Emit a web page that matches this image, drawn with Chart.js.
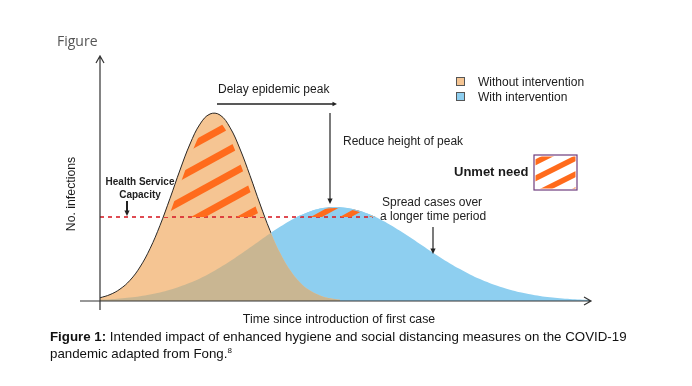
<!DOCTYPE html>
<html>
<head>
<meta charset="utf-8">
<script src="https://cdn.jsdelivr.net/npm/chart.js@4"></script>
<style>
  body { margin: 0; background: #fff; }
  #wrap { position: relative; width: 692px; height: 386px; }
  #chart { position: absolute; left: 0; top: 0; }
  .fig { position: absolute; left: 57px; top: 31px; font: 14px "Open Sans", sans-serif; color: #555; }
  .caption { position: absolute; left: 50px; top: 328px; width: 620px; font: 13.3px "Liberation Sans", Arial, sans-serif; line-height: 17px; color: #111; }
  .caption sup { font-size: 8px; line-height: 0; }
</style>
</head>
<body>
<div id="wrap">
  <canvas id="chart" width="692" height="386"></canvas>
  <div class="fig">Figure</div>
  <div class="caption"><b>Figure 1:</b> Intended impact of enhanced hygiene and social distancing measures on the COVID-19 pandemic adapted from Fong.<sup>8</sup></div>
</div>
<script>
// time since first case (arbitrary units) and number of infections
const time = [0, 10, 20, 30, 40, 50, 60, 70, 80, 90, 100, 110, 120, 130, 140, 150, 160, 170, 180, 190,
  200, 210, 220, 230, 240, 250, 260, 270, 280, 290, 300, 310, 320, 330, 340, 350, 360, 370, 380, 390,
  400, 410, 420, 430, 440, 450, 460, 470, 480, 490];
const withoutIntervention = [3.2, 6.4, 11.9, 20.7, 34.0, 52.3, 75.6, 102.6, 131.0, 157.0, 176.9, 187.0, 186.0,
  173.5, 152.0, 125.4, 97.0, 70.5, 48.2, 30.9, 18.6, 10.5, 5.6, 2.8, 1.3];
const withIntervention = [1.3, 1.8, 2.5, 3.5, 4.8, 6.5, 8.6, 11.2, 14.4, 18.2, 22.6, 27.7, 33.5, 39.7, 46.4,
  53.5, 60.6, 67.6, 74.2, 80.3, 85.4, 89.5, 92.4, 93.8, 93.8, 92.6, 90.0, 86.4, 81.7, 76.3, 70.2, 63.7,
  57.0, 50.3, 43.8, 37.6, 31.9, 26.6, 21.9, 17.8, 14.3, 11.3, 8.8, 6.8, 5.1, 3.8, 2.8, 2.1, 1.5, 1.0];
const capacityTime = [0, 273];
const capacity = [84, 84];

const ORANGE = '#f5c593';
const BLUE = '#8ecff0';
const OVERLAP = '#c9b692';
const STRIPE = '#ff6b1c';
const FONT = '"Liberation Sans", Arial, sans-serif';

const toPoints = (xs, ys) => ys.map((v, i) => ({ x: xs[i], y: v }));

function hatch(ctx, box, spacing, phase, slope, width) {
  ctx.strokeStyle = STRIPE;
  ctx.lineWidth = width;
  ctx.lineCap = 'butt';
  const cMin = box.top + slope * box.left;
  const cMax = box.bottom + slope * box.right;
  let c = phase - spacing * Math.ceil((phase - cMin) / spacing);
  for (; c <= cMax + spacing; c += spacing) {
    ctx.beginPath();
    ctx.moveTo(box.left, c - slope * box.left);
    ctx.lineTo(box.right, c - slope * box.right);
    ctx.stroke();
  }
}

function arrow(ctx, x1, y1, x2, y2, width, head) {
  const ang = Math.atan2(y2 - y1, x2 - x1);
  ctx.strokeStyle = '#222';
  ctx.fillStyle = '#222';
  ctx.lineWidth = width;
  ctx.beginPath();
  ctx.moveTo(x1, y1);
  ctx.lineTo(x2 - Math.cos(ang) * head * 0.6, y2 - Math.sin(ang) * head * 0.6);
  ctx.stroke();
  ctx.beginPath();
  ctx.moveTo(x2, y2);
  ctx.lineTo(x2 - head * Math.cos(ang - 0.45), y2 - head * Math.sin(ang - 0.45));
  ctx.lineTo(x2 - head * Math.cos(ang + 0.45), y2 - head * Math.sin(ang + 0.45));
  ctx.closePath();
  ctx.fill();
}

const diagram = {
  id: 'diagram',
  afterDatasetsDraw(chart) {
    const { ctx, chartArea: a, scales: { x, y } } = chart;
    const base = y.getPixelForValue(0);
    const capY = y.getPixelForValue(capacity[0]);

    const region = (i, fresh = true) => {
      const line = chart.getDatasetMeta(i).dataset;
      const pts = line.points;
      if (fresh) ctx.beginPath();
      line.path(ctx);
      ctx.lineTo(pts[pts.length - 1].x, base);
      ctx.lineTo(pts[0].x, base);
      ctx.closePath();
    };
    const curve = i => {
      ctx.beginPath();
      chart.getDatasetMeta(i).dataset.path(ctx);
    };

    // overlap of the two epidemics
    ctx.save();
    region(0); ctx.clip();
    region(1); ctx.fillStyle = OVERLAP; ctx.fill();
    ctx.restore();

    // unmet need above capacity
    const above = { left: a.left, right: a.right, top: a.top, bottom: capY };
    ctx.save();
    region(0); ctx.clip();
    ctx.beginPath(); ctx.rect(a.left, a.top, a.width, capY - a.top); ctx.clip();
    hatch(ctx, above, 25, 251, 0.55, 7);
    curve(0); ctx.strokeStyle = ORANGE; ctx.lineWidth = 10; ctx.stroke();
    ctx.restore();

    ctx.save();
    region(1); ctx.clip();
    ctx.beginPath(); ctx.rect(a.left, a.top, a.width, capY - a.top); ctx.clip();
    hatch(ctx, above, 16, 375, 0.55, 5.5);
    curve(1); ctx.strokeStyle = BLUE; ctx.lineWidth = 2; ctx.stroke();
    ctx.restore();

    // outline of the first curve, hidden where it runs inside the second
    ctx.save();
    ctx.beginPath(); ctx.rect(0, 0, chart.width, chart.height);
    region(1, false);
    ctx.clip('evenodd');
    curve(0); ctx.strokeStyle = '#2a2a2a'; ctx.lineWidth = 1; ctx.stroke();
    ctx.restore();

    // axes
    ctx.save();
    ctx.strokeStyle = '#333';
    ctx.lineWidth = 1.2;
    ctx.beginPath();
    ctx.moveTo(a.left, base + 9); ctx.lineTo(a.left, a.top - 2);
    ctx.moveTo(a.left - 4, a.top + 5); ctx.lineTo(a.left, a.top - 2); ctx.lineTo(a.left + 4, a.top + 5);
    ctx.moveTo(a.left - 20, base); ctx.lineTo(a.right + 1, base);
    ctx.moveTo(a.right - 6, base - 4); ctx.lineTo(a.right + 1, base); ctx.lineTo(a.right - 6, base + 4);
    ctx.stroke();

    ctx.fillStyle = '#1a1a1a';
    ctx.font = '12.3px ' + FONT;
    ctx.textAlign = 'center';
    ctx.textBaseline = 'alphabetic';
    ctx.fillText('Time since introduction of first case', 339, 323);
    ctx.save();
    ctx.translate(75, 194);
    ctx.rotate(-Math.PI / 2);
    ctx.fillText('No. infections', 0, 0);
    ctx.restore();

    // annotations
    const peakX = x.getPixelForValue(time[withIntervention.indexOf(Math.max(...withIntervention))]);
    ctx.font = '12px ' + FONT;
    ctx.textAlign = 'left';
    ctx.fillText('Delay epidemic peak', 218, 93);
    arrow(ctx, 217, 104, 337, 104, 1.4, 5);
    arrow(ctx, peakX, 113, peakX, 204, 1.2, 6);
    ctx.fillText('Reduce height of peak', 343, 145);
    ctx.fillText('Spread cases over', 382, 206);
    ctx.fillText('a longer time period', 380, 220);
    arrow(ctx, 433, 227, 433, 254, 1.2, 6);

    ctx.font = 'bold 10px ' + FONT;
    ctx.textAlign = 'center';
    ctx.fillText('Health Service', 140, 185);
    ctx.fillText('Capacity', 140, 198);
    arrow(ctx, 127, 201, 127, 216, 2, 6);

    // legend
    ctx.textAlign = 'left';
    ctx.font = '12px ' + FONT;
    [['Without intervention', ORANGE, 77], ['With intervention', BLUE, 92]].forEach(([label, col, top]) => {
      ctx.fillStyle = col;
      ctx.fillRect(456, top, 9, 9);
      ctx.strokeStyle = '#555';
      ctx.lineWidth = 1;
      ctx.strokeRect(456.5, top + 0.5, 8, 8);
      ctx.fillStyle = '#1a1a1a';
      ctx.fillText(label, 478, top + 9);
    });

    ctx.font = 'bold 13px ' + FONT;
    ctx.fillText('Unmet need', 454, 176);
    const box = { left: 534, top: 155, right: 577, bottom: 190 };
    ctx.save();
    ctx.beginPath(); ctx.rect(box.left + 1.5, box.top + 1.5, box.right - box.left - 3, box.bottom - box.top - 3); ctx.clip();
    hatch(ctx, box, 16, 430, 0.5, 5.5);
    ctx.restore();
    ctx.strokeStyle = '#6e3d7d';
    ctx.lineWidth = 1.2;
    ctx.strokeRect(box.left, box.top, box.right - box.left, box.bottom - box.top);
    ctx.restore();
  }
};

new Chart(document.getElementById('chart').getContext('2d'), {
  type: 'line',
  data: {
    datasets: [
      {
        label: 'Without intervention',
        data: toPoints(time, withoutIntervention),
        fill: 'origin',
        backgroundColor: ORANGE,
        borderColor: 'rgba(0,0,0,0)',
        borderWidth: 1,
        pointRadius: 0,
        tension: 0.4,
        order: 1,
      },
      {
        label: 'With intervention',
        data: toPoints(time, withIntervention),
        fill: 'origin',
        backgroundColor: BLUE,
        borderColor: 'rgba(0,0,0,0)',
        borderWidth: 1,
        pointRadius: 0,
        tension: 0.4,
        order: 2,
      },
      {
        label: 'Health Service Capacity',
        data: toPoints(capacityTime, capacity),
        fill: false,
        borderColor: '#d8202a',
        borderWidth: 1.6,
        borderDash: [4, 4],
        pointRadius: 0,
        order: 0,
      },
    ],
  },
  options: {
    responsive: false,
    animation: false,
    layout: { padding: { left: 100, right: 102, top: 58, bottom: 85 } },
    scales: {
      x: { type: 'linear', min: 0, max: 490, display: false },
      y: { min: 0, max: 243, display: false },
    },
    plugins: {
      legend: { display: false },
      tooltip: { enabled: false },
    },
  },
  plugins: [diagram],
});
</script>
</body>
</html>
